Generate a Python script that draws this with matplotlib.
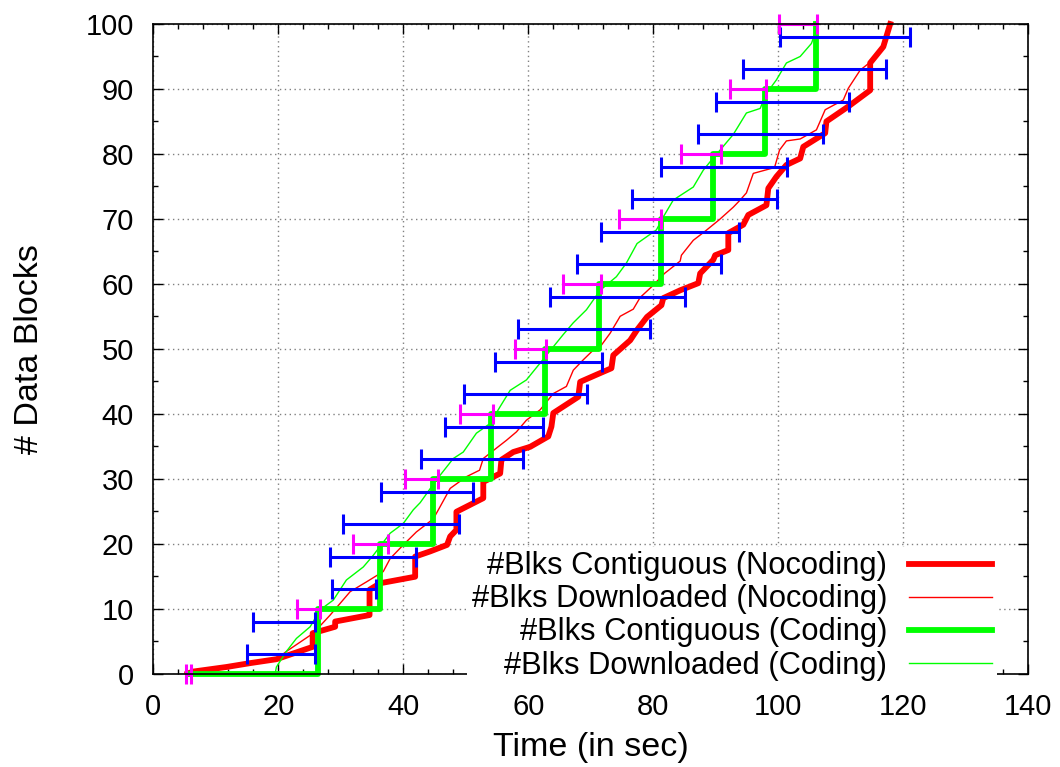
import numpy as np
import matplotlib
matplotlib.use('Agg')
import matplotlib.pyplot as plt

plt.rcParams['font.family'] = ['Liberation Sans', 'DejaVu Sans']

# contiguous blocks, no coding
nc_contig_t = [5.5, 6.4, 11.7, 15.5, 19.7, 25.5, 25.5, 29.1, 29.1, 34.6, 34.6, 36.3,
               41.9, 41.9, 44.3, 47.0, 47.5, 48.5, 48.5, 52.8, 52.8, 55.5, 55.7, 57.6,
               60.3, 63.2, 63.7, 64.0, 65.6, 68.0, 68.3, 70.9, 73.3, 73.6, 76.3, 77.4,
               79.0, 81.3, 81.6, 84.3, 87.2, 87.5, 89.6, 89.9, 92.0, 92.0, 94.4, 95.2,
               98.1, 98.4, 99.7, 101.3, 103.5, 104.0, 107.5, 107.7, 111.2, 114.7, 114.7,
               116.8, 117.9]
nc_contig_n = [0, 0.3, 1.0, 1.6, 2.2, 4.1, 6.2, 7.2, 8.0, 9.0, 12.9, 13.9,
               14.9, 18.0, 18.8, 19.8, 21.1, 22.1, 24.9, 27.0, 29.5, 30.8, 32.9, 34.1,
               34.9, 36.5, 38.0, 40.1, 41.1, 42.6, 44.9, 46.0, 47.0, 49.0, 51.3, 52.9,
               54.9, 56.7, 57.8, 59.0, 60.1, 61.6, 63.7, 64.4, 65.2, 67.8, 69.1, 70.6,
               72.1, 74.7, 76.5, 78.3, 79.3, 81.1, 83.2, 85.0, 87.3, 89.8, 94.0,
               96.5, 100]

# downloaded blocks, no coding
nc_down_t = [5.5, 6.4, 11.7, 15.5, 19.7, 21.3, 25.6, 28.3, 31.5, 34.1, 36.8, 37.9,
             40.0, 42.1, 44.8, 45.9, 47.5, 50.1, 52.2, 52.8, 54.9, 56.5, 58.1, 59.7,
             61.9, 64.0, 66.1, 67.2, 68.8, 70.4, 71.5, 73.1, 74.7, 76.8, 77.9, 79.8,
             81.8, 84.3, 84.5, 86.4, 88.3, 90.6, 92.8, 93.9, 94.9, 96.0, 99.4, 100.2,
             101.3, 103.5, 106.1, 107.5, 110.4, 111.2, 113.1, 115.2, 116.8, 117.9]
nc_down_n = [0, 0.3, 1.0, 1.6, 2.2, 3.4, 6.2, 9.0, 12.6, 14.1, 15.7, 17.7,
             19.8, 21.8, 23.8, 25.7, 28.5, 30.3, 31.3, 33.1, 34.7, 35.9, 37.2, 39.0,
             40.6, 43.1, 44.2, 46.7, 48.3, 49.8, 50.3, 52.4, 55.0, 56.1, 57.9, 59.6,
             61.6, 63.5, 64.4, 66.7, 68.1, 69.9, 71.8, 72.9, 74.0, 77.0, 77.9, 80.6,
             82.0, 82.3, 83.7, 86.8, 88.3, 90.1, 92.9, 94.5, 96.5, 100]

# contiguous blocks, coding (one step per generation of 10 blocks)
c_contig_t = [5.5, 26.4, 36.3, 44.7, 54.0, 62.7, 71.3, 81.3, 89.6, 97.9, 106.1]
c_contig_n = [0, 10, 20, 30, 40, 50, 60, 70, 80, 90, 100]

# downloaded blocks, coding
c_down_t = [19.5, 19.7, 21.3, 22.9, 25.1, 26.7, 28.8, 30.9, 33.6, 35.2, 37.9, 40.0,
            41.6, 42.7, 45.3, 48.0, 49.6, 51.7, 53.9, 55.5, 57.1, 59.7, 61.9, 64.0,
            65.6, 67.2, 69.3, 71.5, 74.1, 75.7, 77.4, 80.5, 81.6, 83.2, 86.4, 88.0,
            89.1, 90.7, 92.8, 94.9, 97.1, 98.1, 99.7, 101.3, 103.5, 105.3, 105.9, 106.1]
c_down_n = [0, 1.0, 3.4, 5.4, 7.2, 9.8, 11.3, 14.4, 16.4, 18.2, 21.6, 23.1,
            25.2, 26.3, 29.8, 33.1, 34.1, 37.0, 38.5, 41.1, 43.6, 45.2, 47.8, 50.3,
            52.2, 54.0, 56.0, 59.0, 61.1, 63.2, 66.2, 68.3, 70.3, 72.9, 74.9, 77.5,
            78.8, 80.6, 83.0, 86.3, 87.0, 89.3, 91.4, 94.0, 95.0, 97.0, 98.6, 100]

# time ranges (blue)
blue_n = [3, 8, 13, 18, 23, 28, 33, 38, 43, 48, 53, 58, 63, 68, 73, 78, 83, 88, 93, 98]
blue_lo = [15.0, 16.0, 28.6, 28.3, 30.4, 36.5, 42.9, 46.7, 49.7, 54.6,
           58.4, 63.4, 67.8, 71.6, 76.6, 81.3, 87.1, 90.1, 94.3, 100.3]
blue_hi = [25.9, 25.9, 35.6, 42.0, 48.9, 51.2, 59.1, 62.3, 69.4, 71.8,
           79.5, 85.0, 90.8, 93.7, 99.8, 101.4, 107.2, 111.3, 117.3, 121.0]

# generation ranges (magenta)
mag_n = [0, 10, 20, 30, 40, 50, 60, 70, 80, 90, 100]
mag_lo = [5.2, 23.0, 32.0, 40.3, 49.0, 57.9, 65.5, 74.5, 84.4, 92.2, 100.1]
mag_hi = [6.1, 26.6, 37.5, 45.5, 54.4, 62.9, 71.7, 81.3, 90.9, 98.1, 106.2]

fig = plt.figure(figsize=(10.6, 7.67), dpi=100)
ax = fig.add_axes([0.1446, 0.1219, 0.8255, 0.8468])

ax.plot(nc_contig_t, nc_contig_n, color='#ff0000', lw=4.2,
        label='#Blks Contiguous (Nocoding)', clip_on=False, zorder=3)
ax.plot(nc_down_t, nc_down_n, color='#ff0000', lw=1.0,
        label='#Blks Downloaded (Nocoding)', clip_on=False, zorder=3)
ax.plot(c_contig_t, c_contig_n, color='#00ff00', lw=4.2, drawstyle='steps-post',
        label='#Blks Contiguous (Coding)', clip_on=False, zorder=3)
ax.plot(c_down_t, c_down_n, color='#00ff00', lw=1.0,
        label='#Blks Downloaded (Coding)', clip_on=False, zorder=3)

def ranges(lo, hi, n, col):
    lo = np.array(lo)
    hi = np.array(hi)
    mid = (lo + hi) / 2
    eb = ax.errorbar(mid, n, xerr=(hi - lo) / 2, fmt='none', ecolor=col,
                     elinewidth=2.2, capsize=7, capthick=2.2, zorder=4)
    for art in eb.lines[1] + eb.lines[2]:
        art.set_clip_on(False)

ranges(blue_lo, blue_hi, blue_n, '#0000ff')
ranges(mag_lo, mag_hi, mag_n, '#ff00ff')

ax.set_xlim(0, 140)
ax.set_ylim(0, 100)
ax.set_xticks(np.arange(0, 141, 20))
ax.set_yticks(np.arange(0, 101, 10))
ax.set_xticks(np.arange(0, 141, 4), minor=True)
ax.set_yticks(np.arange(0, 101, 5), minor=True)
ax.tick_params(which='both', direction='in', top=True, right=True, width=1.0)
ax.tick_params(which='major', length=7, labelsize=21)
ax.tick_params(which='minor', length=3.5)
ax.tick_params(axis='x', which='major', pad=14)
ax.tick_params(axis='y', which='major', pad=14)
for sp in ax.spines.values():
    sp.set_linewidth(1.2)
    sp.set_zorder(5)

ax.grid(True, which='major', color='#808080', lw=1.0, ls=(0, (1, 2.5)))
ax.set_axisbelow(True)

ax.set_xlabel('Time (in sec)', fontsize=24.5, labelpad=8)
ax.set_ylabel('# Data Blocks', fontsize=24.5, labelpad=29)

leg = ax.legend(loc='lower right', bbox_to_anchor=(0.964, -0.018), fontsize=22.2,
                markerfirst=False, handlelength=2.7, handletextpad=0.7,
                labelspacing=0.1, borderpad=0.15, borderaxespad=0,
                fancybox=False, framealpha=1.0)
leg.get_frame().set_edgecolor('white')
leg.get_frame().set_linewidth(0)
leg.set_zorder(6)

fig.savefig('out.png', dpi=100)
